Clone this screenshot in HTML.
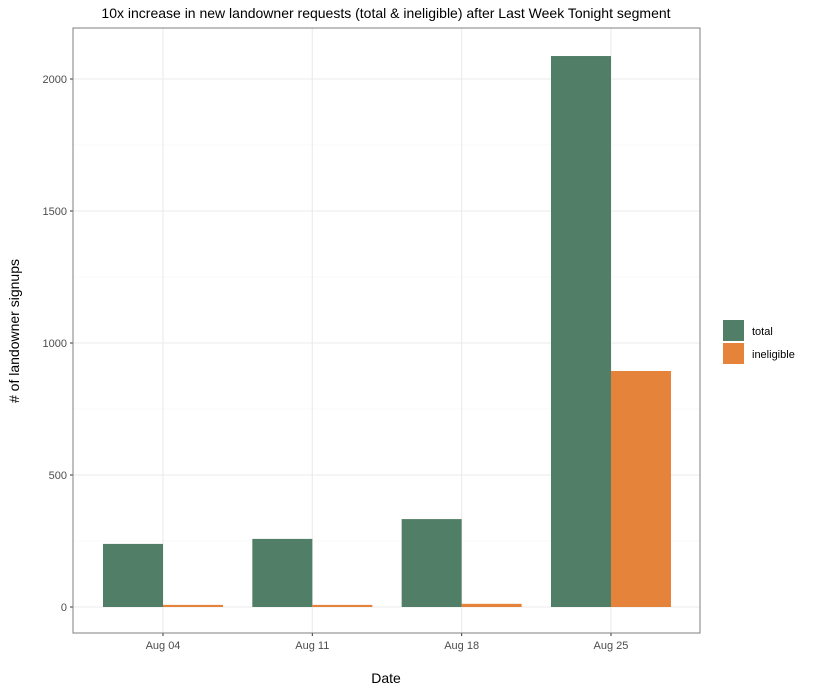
<!DOCTYPE html>
<html><head><meta charset="utf-8"><style>
body{margin:0;background:#fff;font-family:"Liberation Sans",Arial,sans-serif}
</style></head><body>
<svg id="chart" width="813" height="693" xmlns="http://www.w3.org/2000/svg" font-family="Liberation Sans, Arial, sans-serif"></svg>
<script>
const categories=["Aug 04","Aug 11","Aug 18","Aug 25"];
const totalValues=[239,258,333,2087];
const ineligibleValues=[8,8,12,894];
const yTicks=[0,500,1000,1500,2000];
const yMinor=[250,750,1250,1750];
const seriesNames=["total","ineligible"];
const colors=["#517e66","#e6833a"];
const svg=document.getElementById('chart');
const NS="http://www.w3.org/2000/svg";
const L=73,R=700,T=28,B=633;
const y=v=>607-v*0.264;
const x=i=>163+i*149.33;
const bw=60;
function el(t,a,p){const e=document.createElementNS(NS,t);for(const k in a)e.setAttribute(k,a[k]);(p||svg).appendChild(e);return e;}
let bg=el('rect',{x:L,y:T,width:R-L,height:B-T,fill:'#fff'});


yMinor.forEach(v=>{let g=el('line',{x1:L,x2:R,y1:y(v),y2:y(v),stroke:'#f2f2f2','stroke-width':0.6});

});
yTicks.forEach(v=>{let g=el('line',{x1:L,x2:R,y1:y(v),y2:y(v),stroke:'#ebebeb','stroke-width':1.1});


let t=el('text',{x:L-6,y:y(v)+4,'text-anchor':'end','font-size':11,fill:'#4d4d4d'});t.textContent=v;


el('line',{x1:L-3,x2:L,y1:y(v),y2:y(v),stroke:'#333','stroke-width':1});});
categories.forEach((c,i)=>{let g=el('line',{x1:x(i),x2:x(i),y1:T,y2:B,stroke:'#ebebeb','stroke-width':1.1});


let t=el('text',{x:x(i),y:B+16,'text-anchor':'middle','font-size':11,fill:'#4d4d4d'});t.textContent=c;


el('line',{x1:x(i),x2:x(i),y1:B,y2:B+3,stroke:'#333','stroke-width':1});});
categories.forEach((c,i)=>{
let b1=el('rect',{x:x(i)-bw,y:y(totalValues[i]),width:bw,height:y(0)-y(totalValues[i]),fill:colors[0]});


let b2=el('rect',{x:x(i),y:y(ineligibleValues[i]),width:bw,height:y(0)-y(ineligibleValues[i]),fill:colors[1]});

});
let br=el('rect',{x:L,y:T,width:R-L,height:B-T,fill:'none',stroke:'#7f7f7f','stroke-width':1});


let ti=el('text',{x:386,y:18,'text-anchor':'middle','font-size':14,fill:'#000'});ti.textContent="10x increase in new landowner requests (total & ineligible) after Last Week Tonight segment";


let xt=el('text',{x:386,y:683,'text-anchor':'middle','font-size':14,fill:'#000'});xt.textContent="Date";


let yt=el('text',{x:0,y:0,'text-anchor':'middle','font-size':14,fill:'#000',transform:'translate(19,331) rotate(-90)'});yt.textContent="# of landowner signups";


seriesNames.forEach((s,i)=>{let k=el('rect',{x:723,y:320+i*23,width:21,height:21,fill:colors[i]});


let t=el('text',{x:752,y:335+i*23,'font-size':11,fill:'#000'});t.textContent=s;

});
</script>
</body></html>
